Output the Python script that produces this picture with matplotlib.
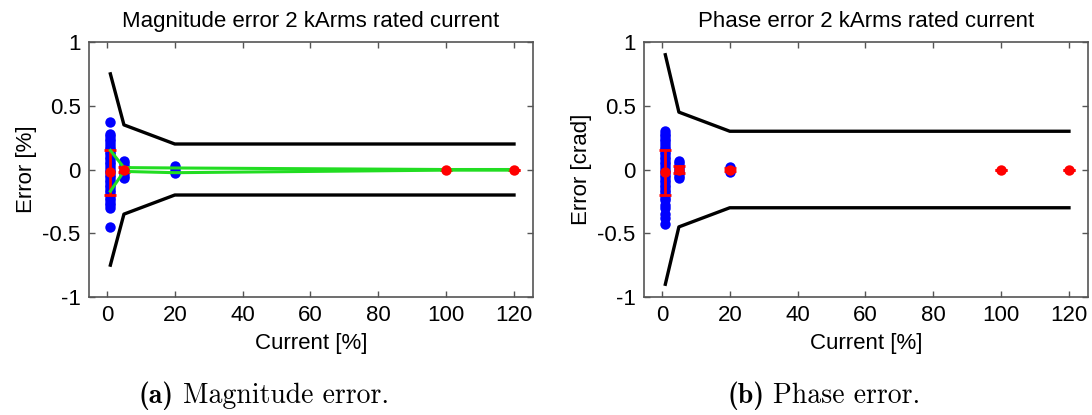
import numpy as np
import matplotlib
matplotlib.use("Agg")
import matplotlib.pyplot as plt

plt.rcParams['font.family'] = ['Liberation Sans', 'DejaVu Sans']

## Data

# limit curves (class 0.2S)
lim_x = [1, 5, 20, 100, 120]
mag_lim = [0.75, 0.35, 0.2, 0.2, 0.2]
pha_lim = [0.9, 0.45, 0.3, 0.3, 0.3]

# individual measurements, magnitude [%]
mag_x1 = [0.37, 0.28, 0.26, 0.24, 0.22, 0.2, 0.18, 0.16, 0.14, 0.12, 0.1, 0.08, 0.06,
          0.04, 0.02, 0.0, -0.02, -0.04, -0.06, -0.08, -0.1, -0.12, -0.14, -0.16,
          -0.18, -0.2, -0.22, -0.24, -0.26, -0.28, -0.3, -0.45]
mag_x5 = [0.07, 0.05, 0.03, 0.01, -0.01, -0.03, -0.05, -0.07]
mag_x20 = [0.03, 0.01, -0.01, -0.03]

# individual measurements, phase [crad]
pha_x1 = [0.3, 0.28, 0.26, 0.24, 0.22, 0.2, 0.18, 0.16, 0.14, 0.12, 0.1, 0.08, 0.06,
          0.04, 0.02, 0.0, -0.02, -0.04, -0.06, -0.08, -0.1, -0.12, -0.14, -0.16,
          -0.18, -0.2, -0.22, -0.24, -0.28, -0.3, -0.35, -0.38, -0.43]
pha_x5 = [0.07, 0.05, 0.03, 0.01, -0.01, -0.03, -0.05, -0.07]
pha_x20 = [0.02, 0.0, -0.02]

# mean and spread per current point (magnitude: red not visible at 20 %)
mag_pts = [1, 5, 100, 120]
mag_mean = [-0.02, 0.0, 0.0, 0.0]
mag_err_lo = [0.18, 0.02, 0.0, 0.0]
mag_err_hi = [0.17, 0.02, 0.0, 0.0]
band_pts = [1, 5, 20, 100, 120]
mag_band_hi = [0.15, 0.015, 0.012, 0.0, 0.0]
mag_band_lo = [-0.17, -0.015, -0.025, -0.005, -0.005]

pha_pts = [1, 5, 20, 100, 120]
pha_mean = [-0.02, 0.0, 0.0, 0.0, 0.0]
pha_err_lo = [0.18, 0.03, 0.01, 0.0, 0.0]
pha_err_hi = [0.17, 0.03, 0.01, 0.0, 0.0]

titles = ["Magnitude error 2 kArms rated current", "Phase error 2 kArms rated current"]
ylabels = ["Error [%]", "Error [crad]"]
captions = [("(a)", "Magnitude error."), ("(b)", "Phase error.")]

fig = plt.figure(figsize=(10.92, 4.15), dpi=100)
ax1 = fig.add_axes([0.0815, 0.2843, 0.4066, 0.6145])
ax2 = fig.add_axes([0.5897, 0.2843, 0.4066, 0.6145])

FS = 16


def draw(ax, lim, cols, pts, mean, elo, ehi, band=None):
    ax.plot(lim_x, lim, color='black', lw=2.4)
    ax.plot(lim_x, [-v for v in lim], color='black', lw=2.4)
    for xv, col in cols:
        ax.plot([xv] * len(col), col, 'o', color='blue', ms=7.5, mec='none')
    ax.errorbar(pts, mean, yerr=[elo, ehi], fmt='o', color='red', ms=7.5,
                mec='none', elinewidth=2, capsize=4, capthick=2)
    if band is not None:
        ax.plot(band_pts, band[0], color='#22dd22', lw=2.2)
        ax.plot(band_pts, band[1], color='#22dd22', lw=2.2)
    ax.set_xlim(-5.3, 125.6)
    ax.set_ylim(-1, 1)
    ax.set_xticks([0, 20, 40, 60, 80, 100, 120])
    ax.set_yticks([-1, -0.5, 0, 0.5, 1])
    ax.set_yticklabels(['-1', '-0.5', '0', '0.5', '1'])
    ax.tick_params(direction='in', top=True, right=True, length=4, width=1,
                   color='#555555', labelsize=FS, pad=6)
    for s in ax.spines.values():
        s.set_color('#555555')
        s.set_linewidth(1.2)
    ax.set_xlabel("Current [%]", fontsize=FS, labelpad=5)


draw(ax1, mag_lim, [(1, mag_x1), (5, mag_x5), (20, mag_x20)],
     mag_pts, mag_mean, mag_err_lo, mag_err_hi, band=(mag_band_hi, mag_band_lo))
draw(ax2, pha_lim, [(1, pha_x1), (5, pha_x5), (20, pha_x20)],
     pha_pts, pha_mean, pha_err_lo, pha_err_hi)

for ax, t, yl in zip([ax1, ax2], titles, ylabels):
    ax.set_title(t, fontsize=FS, pad=11)
    ax.set_ylabel(yl, fontsize=FS, labelpad=4)

# sub-captions, left edges at ~139 px and ~727 px
for lx, (tag, txt) in zip([0.127, 0.666], captions):
    t1 = fig.text(lx, 0.03, tag, ha='left', va='baseline',
                  family='cmb10', fontsize=20)
    fig.canvas.draw()
    bb = t1.get_window_extent()
    fig.text((bb.x1 + 9) / fig.bbox.width, 0.03, txt, ha='left', va='baseline',
             family='cmr10', fontsize=20)

fig.savefig("out.png", dpi=100)
